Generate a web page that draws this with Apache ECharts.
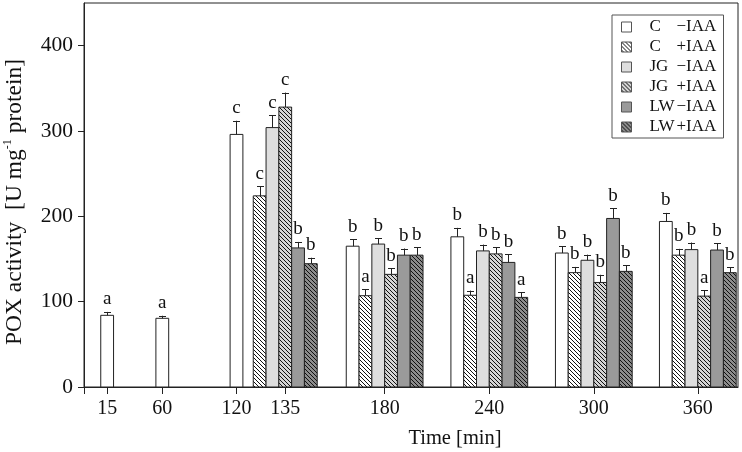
<!DOCTYPE html>
<html><head><meta charset="utf-8">
<script src="https://cdn.jsdelivr.net/npm/echarts@6/dist/echarts.min.js"></script>
<style>html,body{margin:0;padding:0;background:#fff}#c{width:742px;height:452px}</style>
</head><body><div id="c"></div>
<script>
// ---- data ----
const times = ['15', '60', '120', '135', '180', '240', '300', '360'];
// slot positions of each time point on the (non-linear) time axis, in bar-width units
const tickSlots = [1.81, 6.12, 11.92, 15.73, 23.5, 31.68, 39.85, 47.98];
const seriesNames = ['C \u2212IAA', 'C +IAA', 'JG \u2212IAA', 'JG +IAA', 'LW \u2212IAA', 'LW +IAA'];
const cMinus   = [84, 80.5, 296, null, 165, 176, 157, 194];
const cPlus    = [null, null, null, 224, 107, 107.5, 134, 154.5];
const jgMinus  = [null, null, null, 304, 167.5, 159.5, 148.5, 161];
const jgPlus   = [null, null, null, 328, 132, 156, 122.5, 106.5];
const lwMinus  = [null, null, null, 163, 154.5, 146, 197.5, 160.5];
const lwPlus   = [null, null, null, 144.5, 154.5, 105, 135.5, 134];
const cMinusErr  = [4, 3, 16, null, 8, 10.5, 8, 10];
const cPlusErr   = [null, null, null, 11, 7.5, 5.5, 6.7, 7.4];
const jgMinusErr = [null, null, null, 14.7, 6.6, 7.4, 6.6, 8.3];
const jgPlusErr  = [null, null, null, 17, 7.4, 8, 9, 6.6];
const lwMinusErr = [null, null, null, 7, 7.8, 9.4, 11.7, 7.8];
const lwPlusErr  = [null, null, null, 7, 9, 6, 7, 6.3];
const cMinusLet  = ['a', 'a', 'c', null, 'b', 'b', 'b', 'b'];
const cPlusLet   = [null, null, null, 'c', 'a', 'a', 'b', 'b'];
const jgMinusLet = [null, null, null, 'c', 'b', 'b', 'b', 'b'];
const jgPlusLet  = [null, null, null, 'c', 'b', 'b', 'b', 'a'];
const lwMinusLet = [null, null, null, 'b', 'b', 'b', 'b', 'b'];
const lwPlusLet  = [null, null, null, 'b', 'b', 'a', 'b', 'b'];
const yTicks = [0, 100, 200, 300, 400];

const values = [cMinus, cPlus, jgMinus, jgPlus, lwMinus, lwPlus];
const errs = [cMinusErr, cPlusErr, jgMinusErr, jgPlusErr, lwMinusErr, lwPlusErr];
const lets = [cMinusLet, cPlusLet, jgMinusLet, jgPlusLet, lwMinusLet, lwPlusLet];

// ---- styles ----
function hatch(bg) {
  const s = 4, cv = document.createElement('canvas');
  cv.width = s; cv.height = s;
  const ctx = cv.getContext('2d');
  ctx.fillStyle = bg; ctx.fillRect(0, 0, s, s);
  ctx.fillStyle = '#111';
  for (let i = 0; i < s; i++) ctx.fillRect(i, i, 1, 1);
  return { image: cv, repeat: 'repeat' };
}
const fills = ['#ffffff', hatch('#ffffff'), '#dedede', hatch('#d4d4d4'), '#9a9a9a', hatch('#8c8c8c')];
const FONT = '"Liberation Serif", "Times New Roman", serif';

// ---- build series ----
const series = values.map((vals, si) => {
  const data = [];
  vals.forEach((v, gi) => {
    if (v == null) return;
    const present = values.map((a, k) => a[gi] != null ? k : -1).filter(k => k >= 0);
    const k = present.indexOf(si), n = present.length;
    data.push([tickSlots[gi] + k - (n - 1) / 2, v, errs[si][gi], lets[si][gi]]);
  });
  return {
    type: 'custom', name: seriesNames[si],
    itemStyle: { color: fills[si], borderColor: '#222', borderWidth: 1 },
    data,
    renderItem: function (params, api) {
      const x = api.value(0), y = api.value(1), e = api.value(2);
      const letter = data[params.dataIndex][3];
      const w = api.size([1, 0])[0];
      const base = api.coord([x, 0]), top = api.coord([x, y]), et = api.coord([x, y + e]);
      const cx = Math.round(base[0]) + 0.5;
      return {
        type: 'group',
        children: [
          { type: 'rect', shape: { x: base[0] - w / 2, y: top[1], width: w, height: base[1] - top[1] },
            style: { fill: fills[si], stroke: '#222', lineWidth: 1 } },
          { type: 'line', shape: { x1: cx, y1: top[1], x2: cx, y2: et[1] }, style: { stroke: '#222', lineWidth: 1 } },
          { type: 'line', shape: { x1: cx - 3.5, y1: Math.round(et[1]) + 0.5, x2: cx + 3.5, y2: Math.round(et[1]) + 0.5 }, style: { stroke: '#222', lineWidth: 1 } },
          { type: 'text', style: { text: letter, x: base[0], y: et[1] - 3, align: 'center', verticalAlign: 'bottom',
              font: '19px ' + FONT, fill: '#111' } }
        ]
      };
    }
  };
});

const chart = echarts.init(document.getElementById('c'), null, { renderer: 'canvas' });
chart.setOption({
  animation: false,
  backgroundColor: '#fff',
  textStyle: { fontFamily: FONT },
  grid: { left: 84, right: 4, top: 3, bottom: 65, outerBoundsMode: 'none', containLabel: false,
    show: true, borderColor: '#222', borderWidth: 1, backgroundColor: 'transparent' },
  legend: {
    left: 612, top: 15, orient: 'vertical',
    itemWidth: 10, itemHeight: 10, itemGap: 0,
    borderColor: '#555', borderWidth: 1, padding: [2, 6, 1, 9],
    icon: 'rect',
    itemStyle: { borderColor: '#555', borderWidth: 1 },
    formatter: name => { const p = name.split(' '); return '{a|' + p[0] + '}{b|' + p[1] + '}'; },
    textStyle: { fontFamily: FONT, fontSize: 17, color: '#111', lineHeight: 20, padding: [0, 0, 0, 13],
      rich: { a: { fontFamily: FONT, fontSize: 17, color: '#111', width: 27, lineHeight: 20 },
              b: { fontFamily: FONT, fontSize: 17, color: '#111', width: 41, lineHeight: 20 } } },
    data: seriesNames
  },
  xAxis: {
    type: 'value', min: 0, max: 51.12,
    name: 'Time [min]', nameLocation: 'middle', nameGap: 41,
    nameTextStyle: { fontFamily: FONT, fontSize: 20.5, color: '#111', padding: [0, 0, 0, 88] },
    splitLine: { show: false },
    axisLine: { lineStyle: { color: '#222' } },
    axisTick: { customValues: [0].concat(tickSlots), length: 7, lineStyle: { color: '#222' } },
    axisLabel: { customValues: tickSlots, formatter: v => times[tickSlots.indexOf(v)], fontFamily: FONT, fontSize: 20, color: '#111', margin: 12 }
  },
  yAxis: {
    type: 'value', min: 0, max: 450,
    name: '{a|POX activity  [U mg}{s|-1}{a| protein]}', nameLocation: 'middle', nameGap: 56,
    nameTextStyle: { padding: [0, 14, 0, 0], rich: { a: { fontFamily: FONT, fontSize: 23.5, color: '#111', lineHeight: 26 },
      s: { fontFamily: FONT, fontSize: 12, color: '#111', verticalAlign: 'top', lineHeight: 26 } } },
    splitLine: { show: false },
    axisLine: { show: true, lineStyle: { color: '#222' } },
    axisTick: { show: true, customValues: yTicks, length: 6, lineStyle: { color: '#222' } },
    axisLabel: { customValues: yTicks, fontFamily: FONT, fontSize: 21.5, color: '#111', margin: 11 }
  },
  series
});
</script></body></html>
